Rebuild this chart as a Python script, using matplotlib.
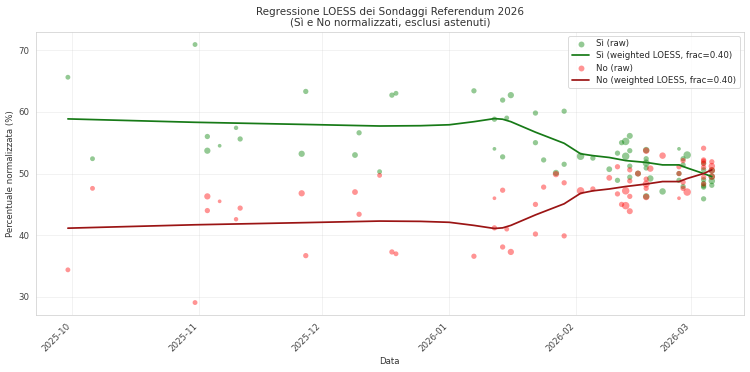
import numpy as np
import pandas as pd
import matplotlib
matplotlib.use('Agg')
import matplotlib.pyplot as plt
import matplotlib.dates as mdates
import seaborn as sns

# sondaggi (Si e No normalizzati)
date = ['2025-09-30', '2025-10-06', '2025-10-31', '2025-11-03', '2025-11-03',
        '2025-11-06', '2025-11-10', '2025-11-11', '2025-11-26', '2025-11-27',
        '2025-12-09', '2025-12-10', '2025-12-15', '2025-12-18', '2025-12-19',
        '2026-01-07', '2026-01-12', '2026-01-12', '2026-01-14', '2026-01-14',
        '2026-01-15', '2026-01-16', '2026-01-22', '2026-01-22', '2026-01-24',
        '2026-01-27', '2026-01-29', '2026-01-29', '2026-02-02', '2026-02-05',
        '2026-02-09', '2026-02-11', '2026-02-11', '2026-02-12', '2026-02-13',
        '2026-02-13', '2026-02-14', '2026-02-14', '2026-02-14', '2026-02-14',
        '2026-02-16', '2026-02-18', '2026-02-18', '2026-02-18', '2026-02-18',
        '2026-02-18', '2026-02-19', '2026-02-22', '2026-02-26', '2026-02-26',
        '2026-02-26', '2026-02-27', '2026-02-27', '2026-02-27', '2026-02-28',
        '2026-03-04', '2026-03-04', '2026-03-04', '2026-03-04',
        '2026-03-04', '2026-03-04', '2026-03-04', '2026-03-06', '2026-03-06',
        '2026-03-06', '2026-03-06']
si = [65.6, 52.4, 70.9, 56.0, 53.7,
      54.5, 57.4, 55.6, 53.2, 63.3,
      53.0, 56.6, 50.3, 62.7, 63.0,
      63.4, 58.8, 54.0, 61.9, 52.7,
      59.0, 62.7, 59.8, 55.0, 52.2,
      50.1, 60.1, 51.5, 52.8, 52.5,
      50.7, 53.3, 48.9, 55.0, 55.2,
      52.8, 56.1, 53.7, 49.4, 51.2,
      50.0, 53.8, 46.3, 52.4, 51.7,
      50.9, 49.2, 47.1, 54.0, 50.0,
      48.9, 52.4, 51.4, 47.9, 53.0,
      45.9, 51.7, 50.6, 48.4,
      47.8, 49.0, 48.0, 48.8, 48.1,
      50.5, 49.5]
no = [34.4, 47.6, 29.1, 44.0, 46.3,
      45.5, 42.6, 44.4, 46.8, 36.7,
      47.0, 43.4, 49.7, 37.3, 37.0,
      36.6, 41.2, 46.0, 38.1, 47.3,
      41.0, 37.3, 40.2, 45.0, 47.8,
      49.9, 39.9, 48.5, 47.2, 47.5,
      49.3, 46.7, 51.1, 45.0, 44.8,
      47.2, 43.9, 46.3, 50.6, 48.8,
      50.0, 46.2, 53.7, 47.6, 48.3,
      49.1, 50.8, 52.9, 46.0, 50.0,
      51.1, 47.6, 48.6, 52.1, 47.0,
      54.1, 48.3, 49.4, 51.6,
      52.2, 51.0, 52.0, 51.2, 51.9,
      49.5, 50.5]
campione = [850, 850, 850, 1000, 1400,
            500, 700, 1000, 1400, 1000,
            1200, 1000, 850, 1000, 850,
            1000, 1000, 500, 1000, 1000,
            850, 1400, 1000, 1000, 1000,
            1400, 1000, 1000, 2000, 1000,
            1200, 1000, 1000, 1000, 2000,
            2000, 1300, 1000, 1000, 1000,
            1300, 1500, 1500, 1000, 1800,
            1000, 1500, 1500, 500, 1000,
            1000, 1000, 1000, 1000, 2000,
            1000, 1000, 1000, 1000,
            1000, 1000, 1000, 1500, 1000,
            1500, 1500]

# curve LOESS
date_loess = ['2025-09-30', '2025-10-31', '2025-11-27', '2025-12-15', '2025-12-25',
              '2026-01-01', '2026-01-07', '2026-01-12', '2026-01-14', '2026-01-16',
              '2026-01-22', '2026-01-29', '2026-02-02', '2026-02-05', '2026-02-09',
              '2026-02-13', '2026-02-18', '2026-02-22', '2026-02-26', '2026-02-28',
              '2026-03-04', '2026-03-06']
si_loess = [58.85, 58.3, 57.95, 57.7, 57.75,
            57.9, 58.4, 58.9, 58.8, 58.4,
            56.7, 54.9, 53.2, 52.9, 52.6,
            52.1, 51.8, 51.4, 51.4, 50.9,
            50.0, 49.5]
no_loess = [41.15, 41.7, 42.05, 42.3, 42.25,
            42.1, 41.6, 41.1, 41.2, 41.6,
            43.3, 45.1, 46.8, 47.2, 47.5,
            47.9, 48.3, 48.7, 48.7, 49.2,
            50.0, 50.6]

x = pd.to_datetime(date)
xl = pd.to_datetime(date_loess)
size = np.array(campione) / 27

sns.set_style('whitegrid')
fig, ax = plt.subplots(figsize=(12, 5.952), dpi=62.5)
fig.subplots_adjust(left=0.0476, right=0.992, top=0.915, bottom=0.152)

ax.scatter(x, si, s=size, color='green', alpha=0.42, linewidths=0, label='Sì (raw)')
ax.plot(xl, si_loess, color='#177a17', lw=2, label='Sì (weighted LOESS, frac=0.40)')
ax.scatter(x, no, s=size, color='red', alpha=0.42, linewidths=0, label='No (raw)')
ax.plot(xl, no_loess, color='#9b1414', lw=2, label='No (weighted LOESS, frac=0.40)')

ax.set_title('Regressione LOESS dei Sondaggi Referendum 2026\n(Sì e No normalizzati, esclusi astenuti)',
             fontsize=12, color='#333333')
ax.set_xlabel('Data', fontsize=10, color='#333333')
ax.set_ylabel('Percentuale normalizzata (%)', fontsize=10, color='#333333')
ax.xaxis.set_major_locator(mdates.MonthLocator())
ax.xaxis.set_major_formatter(mdates.DateFormatter('%Y-%m'))
plt.setp(ax.get_xticklabels(), rotation=45, ha='right', fontsize=10, color='#444444')
plt.setp(ax.get_yticklabels(), fontsize=10, color='#444444')
ax.grid(True, alpha=0.35)
ax.legend(loc='upper right', fontsize=10, labelspacing=0.35)

fig.savefig('out.png', dpi=62.5)
